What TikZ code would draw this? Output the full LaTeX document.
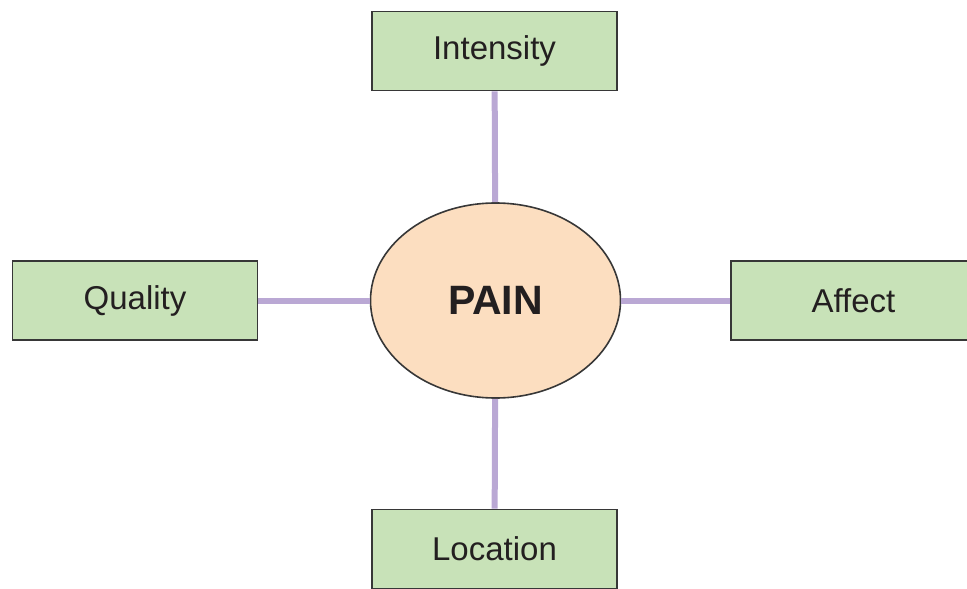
\documentclass[tikz,border=0pt]{standalone}
\usepackage{fontspec}
\setmainfont{Liberation Sans}
\usetikzlibrary{shapes.geometric}
\definecolor{boxgreen}{RGB}{200,226,184}
\definecolor{painorange}{RGB}{252,222,192}
\definecolor{linkviolet}{RGB}{186,168,212}
\definecolor{edgegray}{RGB}{55,55,55}
\definecolor{textgray}{RGB}{35,31,32}
\begin{document}
\begin{tikzpicture}[x=0.5pt,y=-0.5pt,
    factor/.style={draw=edgegray,line width=0.8pt,fill=boxgreen,text=textgray,minimum width=122.5pt,minimum height=39.5pt,inner sep=0pt,font=\fontsize{16.5}{19}\selectfont},
    pain/.style={ellipse,draw=edgegray,line width=0.8pt,fill=painorange,text=textgray,minimum width=125pt,minimum height=97.5pt,inner sep=0pt,font=\fontsize{20.5}{24}\selectfont\bfseries},
    link/.style={linkviolet,line width=3pt}]
            \clip (0,0) rectangle (967,588);
            \useasboundingbox (0,0) rectangle (967,588);
            \draw (495.5, 300.5) node[pain](pain){PAIN};
            \draw (494.5, 51) node[factor](intensity){Intensity};
            \draw (intensity) edge[link] (pain);
            \draw (135, 300.5) node[factor](quality){Quality};
            \draw (quality) edge[link] (pain);
            \draw (853.5, 300.5) node[factor](affect){Affect};
            \draw (pain) edge[link] (affect);
            \draw (494.5, 549) node[factor](location){Location};
            \draw (pain) edge[link] (location);
        \end{tikzpicture}
\end{document}
